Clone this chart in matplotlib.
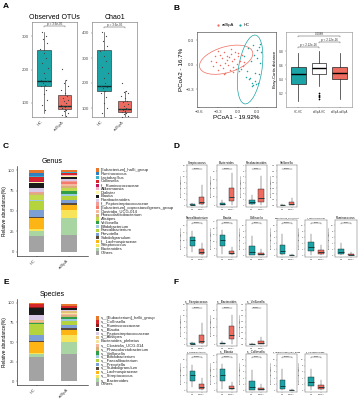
import matplotlib
matplotlib.use('Agg')
import matplotlib.pyplot as plt
import numpy as np
from matplotlib.patches import Ellipse, Rectangle

plt.rcParams['font.family'] = ['Liberation Sans', 'DejaVu Sans']

W, H = 360, 400
TEAL = '#1BA3A6'
RED = '#EE6B5F'
DARK = '#0E2F30'

# ---------------- A: alpha diversity ----------------
groups = ['HC', 'adSpA']
obs_hc = dict(whislo=70, q1=151, med=166, q3=258, whishi=312)
obs_ad = dict(whislo=61, q1=82, med=91, q3=124, whishi=169)
chao_hc = dict(whislo=60, q1=168, med=188, q3=332, whishi=404)
chao_ad = dict(whislo=60, q1=84, med=96, q3=128, whishi=168)

obs_hc_pts = [312, 300, 290, 280, 262, 250, 235, 220, 205, 190, 175, 170, 165, 160, 155, 150, 140, 128, 110, 95, 80]
obs_ad_pts = [201, 168, 160, 150, 140, 130, 122, 115, 110, 105, 100, 95, 92, 90, 88, 85, 80, 75, 70, 65, 62]
chao_hc_pts = [404, 390, 370, 350, 330, 310, 290, 265, 240, 220, 200, 190, 185, 180, 170, 160, 145, 120, 100, 80, 60]
chao_ad_pts = [200, 168, 165, 160, 150, 140, 130, 125, 115, 110, 100, 98, 95, 92, 90, 85, 80, 75, 70, 65, 60]
jitter = [-0.12, 0.08, -0.05, 0.15, -0.18, 0.02, 0.11, -0.09, 0.17, -0.02, 0.06, -0.15, 0.13, -0.07, 0.04, -0.13, 0.09, -0.01, 0.16, -0.11, 0.05]

# ---------------- B: beta diversity ----------------
pc_ad_x = [-0.42, -0.38, -0.35, -0.33, -0.30, -0.28, -0.27, -0.25, -0.23, -0.22, -0.20, -0.19, -0.17, -0.16, -0.15,
           -0.13, -0.12, -0.10, -0.09, -0.08, -0.06, -0.05, -0.03, -0.02, 0.00, 0.02, 0.04, 0.06, 0.08, 0.10,
           -0.31, -0.21, -0.11, -0.07, 0.01]
pc_ad_y = [0.05, -0.02, 0.10, 0.03, -0.06, 0.12, 0.00, 0.08, -0.04, 0.15, 0.02, -0.10, 0.06, 0.11, -0.01,
           0.09, -0.07, 0.13, 0.04, -0.03, 0.07, 0.16, -0.05, 0.01, 0.10, -0.08, 0.05, 0.12, -0.02, 0.03,
           0.17, -0.12, 0.19, -0.09, 0.14]
pc_hc_x = [0.05, 0.10, 0.12, 0.15, 0.18, 0.20, 0.22, 0.24, 0.25, 0.27, 0.28, 0.30, 0.32, 0.33, 0.35, 0.22,
           0.26, 0.29, 0.31, 0.14, 0.36, 0.34, 0.19, 0.23]
pc_hc_y = [-0.05, 0.10, -0.15, 0.20, -0.18, 0.05, -0.22, -0.25, 0.12, -0.20, -0.24, 0.18, 0.22, -0.12, 0.25,
           -0.26, -0.10, 0.08, -0.23, -0.08, 0.15, 0.02, -0.17, 0.24]
ell_ad = dict(xy=(-0.18, 0.06), width=0.84, height=0.32, angle=12)
ell_hc = dict(xy=(0.19, -0.06), width=0.86, height=0.36, angle=78)

beta_labels = ['HC-HC', 'adSpA-HC', 'adSpA-adSpA']
beta_stats = [dict(whislo=0.09, q1=0.33, med=0.47, q3=0.58, whishi=0.78),
              dict(whislo=0.30, q1=0.48, med=0.56, q3=0.63, whishi=0.80),
              dict(whislo=0.12, q1=0.40, med=0.49, q3=0.58, whishi=0.78)]
beta_fliers = [[], [0.20, 0.18, 0.16, 0.14, 0.12], []]

# ---------------- C / E: composition ----------------
genus_names = ['[Eubacterium]_hallii_group', 'Ruminococcus', 'Lactobacillus', 'Collinsella', 'f__Ruminococcaceae',
               'Akkermansia', 'Dialister', 'Blautia', 'Parabacteroides', 'f__Peptostreptococcaceae',
               '[Eubacterium]_coprostanoligenes_group', 'Clostridia_UCG-014', 'Phascolarctobacterium', 'Alistipes',
               'Veillonella', 'Bifidobacterium', 'Faecalibacterium', 'Prevotella', 'Subdoligranulum',
               'f__Lachnospiraceae', 'Streptococcus', 'Bacteroides', 'Others']
genus_colors = ['#E8772E', '#2F7FC1', '#3BB0C9', '#D7262B', '#C2185B', '#F4B6C8', '#FFF5A8', '#1A1A1A', '#D9C8E6',
                '#F29E97', '#F27B6E', '#F6B9A0', '#D9B07A', '#C3D94E', '#2E9E47', '#9ECAE1', '#B5D33D', '#7C9FD6',
                '#5A4A3C', '#FDB515', '#F7E45A', '#A8D5A2', '#A3A3A3']
genus_hc = [3.5, 4, 0.5, 5, 1, 0.5, 1, 6, 5.5, 0.5, 0.5, 0.5, 2, 6, 0.5, 1, 11, 8, 1.5, 13.5, 2, 6.5, 19.5]
genus_ad = [2, 0.5, 1, 2, 1, 1, 1.5, 2, 2, 1.5, 3, 2, 2.5, 4, 3, 3, 5, 3.5, 2.5, 6, 9.5, 20.5, 21]

species_names = ['s__[Eubacterium]_hallii_group', 's__Collinsella', 's__Ruminococcaceae', 's__Blautia',
                 's__Peptostreptococcaceae', 's__Alistipes', 'Bacteroides_plebeius', 's__Clostridia_UCG-014',
                 's__Phascolarctobacterium', 's__Veillonella', 's__Bifidobacterium', 's__Faecalibacterium',
                 's__Prevotella', 's__Subdoligranulum', 's__Lachnospiraceae', 's__Streptococcus', 's__Bacteroides',
                 'Others']
species_colors = ['#E8772E', '#D7262B', '#8B1A1A', '#1A1A1A', '#D9C8E6', '#E5C07B', '#F2E6A0', '#F6B9A0',
                  '#D9B07A', '#2E9E47', '#9ECAE1', '#B5D33D', '#7C9FD6', '#5A4A3C', '#FDB515', '#F7E45A',
                  '#A8D5A2', '#A3A3A3']
species_hc = [2, 3.5, 1, 8.5, 7, 1, 0.5, 0.5, 2, 0.5, 1, 14, 7, 2, 13.5, 1, 4, 31]
species_ad = [2.5, 1.5, 1, 2, 1, 2.5, 1.5, 2, 2, 3, 2, 5.5, 3, 3.5, 6, 9.5, 14.5, 35]

# ---------------- D / F: differential taxa ----------------
def st(lo, q1, med, q3, hi):
    return dict(whislo=lo, q1=q1, med=med, q3=q3, whishi=hi)

genus_diff = [
    ('Streptococcus', st(0, 0.05, 0.1, 0.3, 0.8), st(0, 0.5, 1.2, 3.0, 7.0), 12, '0.0001'),
    ('Bacteroides', st(0, 0.5, 1.5, 3, 6), st(0, 5, 10, 20, 38), 40, '0.0001'),
    ('Parabacteroides', st(0, 0.2, 0.5, 1, 1.8), st(0, 0.5, 1.2, 2.8, 5.2), 6, '0.003'),
    ('Veillonella', st(0, 0.01, 0.02, 0.04, 0.08), st(0, 0.02, 0.1, 0.3, 0.6), 3, '0.0001'),
    ('Faecalibacterium', st(2, 6, 10, 12.5, 16.5), st(0, 1, 2, 4, 8), 20, '0.0001'),
    ('Blautia', st(1, 7, 11, 15, 19), st(0, 0.8, 1.5, 3, 6), 22, '0.0001'),
    ('Collinsella', st(0, 0.3, 1.2, 3, 6.5), st(0, 0.1, 0.4, 0.9, 2), 10, '0.001'),
    ('[Eubacterium]_hallii_group', st(0, 0.6, 1.5, 3.5, 7), st(0, 0.05, 0.1, 0.2, 0.4), 10, '0.0001'),
    ('f__Lachnospiraceae', st(0, 1.5, 2.8, 4.5, 7), st(0, 0.5, 1, 1.8, 3.5), 10, '0.002'),
    ('Ruminococcus', st(0, 0.6, 1.2, 2.2, 4), st(0, 0.1, 0.3, 0.6, 1.2), 10, '0.001'),
]
species_diff = [
    ('s__Streptococcus', st(0, 0.05, 0.1, 0.3, 0.8), st(0, 0.5, 1.3, 3.2, 7.5), 12, '0.0001'),
    ('s__Bacteroides', st(0, 0.3, 1, 2, 4), st(0, 6, 11, 21, 34), 40, '0.0001'),
    ('s__Veillonella', st(0, 0.01, 0.02, 0.04, 0.08), st(0, 0.02, 0.1, 0.3, 0.6), 3, '0.0001'),
    ('s__Faecalibacterium', st(2, 6, 10, 12.5, 16.5), st(0, 1, 2, 4, 8), 20, '0.0001'),
    ('s__Blautia', st(1, 7, 11, 15, 19), st(0, 0.8, 1.5, 3, 6), 22, '0.0001'),
    ('s__Collinsella', st(0, 0.3, 1.2, 3, 6.5), st(0, 0.1, 0.4, 0.9, 2), 10, '0.001'),
    ('s__[Eubacterium]_hallii_group', st(0, 0.6, 1.5, 3.5, 7), st(0, 0.05, 0.1, 0.2, 0.4), 10, '0.0001'),
    ('s__Lachnospiraceae', st(0, 1.5, 2.8, 4.5, 7), st(0, 0.5, 1, 1.8, 3.5), 10, '0.002'),
]

fig = plt.figure(figsize=(W / 100, H / 100), dpi=100)


def ax_at(l, t, r, b):
    return fig.add_axes([l / W, 1 - b / H, (r - l) / W, (b - t) / H])


def boxes(ax, stats, pos, colors, width, lw=0.5, mlw=1.0, mcol=DARK):
    bp = ax.bxp(stats, positions=pos, widths=width, patch_artist=True, showcaps=False, showfliers=False,
                boxprops=dict(linewidth=lw, edgecolor='#222222'), whiskerprops=dict(linewidth=lw, color='#222222'),
                medianprops=dict(linewidth=mlw, color=mcol))
    for p, c in zip(bp['boxes'], colors):
        p.set_facecolor(c)
    return bp


def bracket(ax, x1, x2, y, h, text, fs):
    ax.plot([x1, x1, x2, x2], [y - h, y, y, y - h], lw=0.3, color='#333333')
    ax.text((x1 + x2) / 2, y, text, ha='center', va='bottom', fontsize=fs, color='#333333')


def frame(ax, col='#888888', lw=0.5):
    for s in ax.spines.values():
        s.set_color(col)
        s.set_linewidth(lw)


# ---- panel A
for (l, r), title, shc, sad, phc, pad_, ylim, ticks, yb in [
        ((32, 77), 'Observed OTUs', obs_hc, obs_ad, obs_hc_pts, obs_ad_pts, (58, 342), [100, 200, 300], 330),
        ((92, 137), 'Chao1', chao_hc, chao_ad, chao_hc_pts, chao_ad_pts, (64, 444), [100, 200, 300, 400], 424)]:
    ax = ax_at(l, 22, r, 117)
    boxes(ax, [shc, sad], [1, 2], [TEAL, RED], 0.68, lw=0.4, mlw=1.0)
    ax.scatter(1 + np.array(jitter[:len(phc)]), phc, s=0.8, color='#444444', zorder=3, linewidths=0)
    ax.scatter(2 + np.array(jitter[:len(pad_)]), pad_, s=0.8, color='#444444', zorder=3, linewidths=0)
    ax.set_xlim(0.41, 2.61)
    ax.set_ylim(*ylim)
    ax.set_yticks(ticks)
    ax.set_xticks([1, 2])
    ax.set_xticklabels(groups, rotation=45, ha='right')
    ax.tick_params(labelsize=3.2, length=1, width=0.3, pad=1, colors='#555555')
    ax.set_title(title, fontsize=5, pad=2)
    frame(ax)
    bracket(ax, 1, 2, yb, (ylim[1] - ylim[0]) * 0.015, 'p = 3.6e-05', 2.2)

# ---- panel B: PCoA
ax = ax_at(197, 32, 276, 107)
ax.add_patch(Ellipse(**ell_ad, fill=False, edgecolor=RED, lw=0.5))
ax.add_patch(Ellipse(**ell_hc, fill=False, edgecolor=TEAL, lw=0.5))
ax.scatter(pc_ad_x, pc_ad_y, s=1.2, color=RED, linewidths=0, label='adSpA')
ax.scatter(pc_hc_x, pc_hc_y, s=1.2, color=TEAL, linewidths=0, label='HC')
ax.set_xlim(-0.63, 0.59)
ax.set_ylim(-0.52, 0.40)
ax.set_xticks([-0.6, -0.3, 0.0, 0.3])
ax.set_yticks([-0.3, 0.0, 0.3])
ax.tick_params(labelsize=3.2, length=1, width=0.3, pad=1, colors='#444444')
ax.set_xlabel('PCoA1 - 19.92%', fontsize=4.5, labelpad=1)
ax.set_ylabel('PCoA2 - 16.7%', fontsize=4.5, labelpad=1)
frame(ax, '#333333', 0.4)
ax.legend(loc='lower center', bbox_to_anchor=(0.45, 1.02), ncol=2, fontsize=3, frameon=False,
          markerscale=1.5, handlelength=1, columnspacing=1, handletextpad=0.3)

ax = ax_at(286, 32, 352, 107)
boxes(ax, beta_stats, [1, 2, 3], [TEAL, 'white', RED], 0.7, lw=0.5, mlw=1.0, mcol='black')
for i, fl in enumerate(beta_fliers):
    ax.scatter([i + 1] * len(fl), fl, s=1.5, color='black', linewidths=0, zorder=3)
ax.set_xlim(0.4, 3.6)
ax.set_ylim(0.0, 1.08)
ax.set_yticks([0.2, 0.4, 0.6, 0.8])
ax.set_xticks([1, 2, 3])
ax.set_xticklabels(beta_labels)
ax.tick_params(labelsize=2.4, length=1, width=0.3, pad=1, colors='#444444')
ax.tick_params(axis='x', labelsize=2.0)
ax.set_ylabel('Bray-Curtis distance', fontsize=3, labelpad=1)
frame(ax, '#888888', 0.4)
bracket(ax, 1, 3, 1.02, 0.015, '0.0088', 2.2)
bracket(ax, 1, 2, 0.86, 0.015, 'p < 2.22e-16', 2.2)
bracket(ax, 2, 3, 0.93, 0.015, 'p < 2.22e-16', 2.2)


# ---- panels C / E: stacked bars
def stacked(top, bottom, title, names, colors, hc_vals, ad_vals, leg_top, leg_bottom):
    ax = ax_at(17, top, 88, bottom)
    for vals, x in [(hc_vals, 1), (ad_vals, 2)]:
        base = 0
        for v, c in zip(vals[::-1], colors[::-1]):
            ax.bar(x, v, bottom=base, width=0.48, color=c, linewidth=0)
            base += v
    ax.set_xlim(0.4, 2.58)
    ax.set_ylim(-5, 105)
    ax.set_yticks([0, 25, 50, 75, 100])
    ax.set_xticks([1, 2])
    ax.set_xticklabels(groups, rotation=45, ha='right')
    ax.tick_params(labelsize=3.0, length=1, width=0.3, pad=0.8, colors='#444444')
    ax.set_ylabel('Relative abundance(%)', fontsize=3.4, labelpad=0.8)
    ax.set_title(title, fontsize=5, pad=2)
    for s in ['top', 'right']:
        ax.spines[s].set_visible(False)
    for s in ['left', 'bottom']:
        ax.spines[s].set_linewidth(0.4)
    n = len(names)
    step = (leg_bottom - leg_top) / (n - 1)
    for i, (nm, c) in enumerate(zip(names, colors)):
        yc = leg_top + i * step
        ov.add_patch(Rectangle((96, yc - step * 0.42), 3, step * 0.84, color=c, lw=0))
        ov.text(100.5, yc, nm, fontsize=3.0, va='center', ha='left', color='#222222')


ov = fig.add_axes([0, 0, 1, 1], zorder=-1)
ov.set_xlim(0, W)
ov.set_ylim(H, 0)
ov.axis('off')

stacked(166, 256, 'Genus', genus_names, genus_colors, genus_hc, genus_ad, 170, 253)
stacked(299, 385, 'Species', species_names, species_colors, species_hc, species_ad, 318, 384)


# ---- panels D / F: small boxplots
def mini(l, t, r, b, item):
    title, shc, sad, ymax, ptxt = item
    ax = ax_at(l, t, r, b)
    boxes(ax, [shc, sad], [1, 2], [TEAL, RED], 0.6, lw=0.3, mlw=0.6)
    ax.set_xlim(0.4, 2.6)
    ax.set_ylim(-0.05 * ymax, 1.18 * ymax)
    ax.set_xticks([1, 2])
    ax.set_xticklabels(groups)
    ax.tick_params(labelsize=1.6, length=0.8, width=0.2, pad=0.5, colors='#444444')
    ax.set_ylabel('Relative abundance(%)', fontsize=1.5, labelpad=0.4)
    ax.set_title(title, fontsize=2.1 if len(title) < 18 else 1.5, pad=1.0)
    frame(ax, '#555555', 0.3)
    bracket(ax, 1, 2, 1.07 * ymax, 0.02 * ymax, ptxt, 1.5)


cols = [(187, 207), (217, 237), (246, 267), (277, 297), (305, 327), (335, 357)]
for i, item in enumerate(genus_diff[:4]):
    mini(cols[i][0], 165, cols[i][1], 207, item)
for i, item in enumerate(genus_diff[4:]):
    mini(cols[i][0], 220, cols[i][1], 257, item)
for i, item in enumerate(species_diff[:3]):
    mini(cols[i][0], 304, cols[i][1], 346, item)
for i, item in enumerate(species_diff[3:]):
    mini(cols[i][0], 354, cols[i][1], 392, item)

for letter, x, y in [('A', 3, 3), ('B', 173, 5), ('C', 3, 143), ('D', 173, 143), ('E', 3, 279), ('F', 173, 279)]:
    fig.text(x / W, 1 - y / H, letter, fontsize=6, fontweight='bold', va='top', ha='left')

fig.savefig('out.png', dpi=100)
